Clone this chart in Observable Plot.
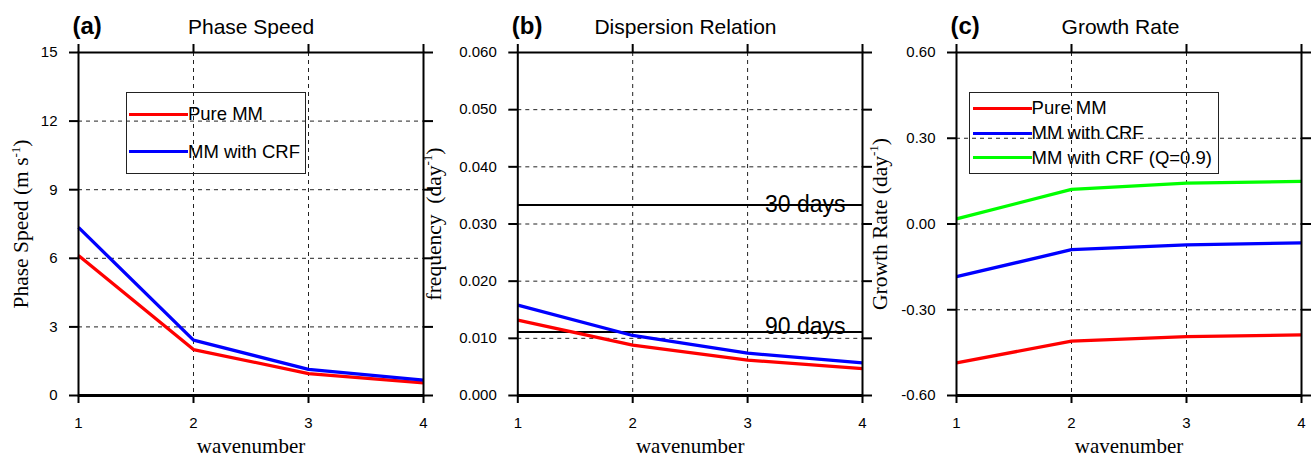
<!DOCTYPE html>
<html><head><meta charset="utf-8">
<script src="https://cdn.jsdelivr.net/npm/d3@7"></script>
<script src="https://cdn.jsdelivr.net/npm/@observablehq/plot@0.6"></script>
<style>
html,body{margin:0;padding:0;background:#fff;}
#wrap{position:relative;width:1312px;height:457px;overflow:hidden;font-family:"Liberation Sans",Arial,sans-serif;}
.panel{position:absolute;top:0;}
.legend{position:absolute;border:1px solid #222;box-sizing:border-box;font-size:18.5px;color:#000;background:transparent;}
.row{position:absolute;height:0;}
.sw{position:absolute;left:0;width:59px;height:3.5px;top:-1.75px;}
.lt{position:absolute;left:59px;top:-11px;line-height:22px;white-space:nowrap;}
</style></head><body><div id="wrap"></div>
<script>
// ---- data ----
const wavenumber = [1, 2, 3, 4];
const phaseSpeedPureMM = [6.12, 2.01, 0.96, 0.55];
const phaseSpeedMMwithCRF = [7.35, 2.42, 1.14, 0.67];
const frequencyPureMM = [0.0132, 0.0088, 0.0062, 0.0047];
const frequencyMMwithCRF = [0.0158, 0.0105, 0.0074, 0.0057];
const growthPureMM = [-0.486, -0.410, -0.394, -0.388];
const growthMMwithCRF = [-0.184, -0.090, -0.073, -0.066];
const growthMMwithCRFQ09 = [0.018, 0.121, 0.143, 0.149];
const periodDays = [30, 90];
const periodLabels = ["30 days", "90 days"];
const seriesNames = ["Pure MM", "MM with CRF", "MM with CRF (Q=0.9)"];
const seriesColors = ["#ff0000", "#0000ff", "#00ff00"];
const ticksPhase = [0, 3, 6, 9, 12, 15];
const ticksFreq = [0, 0.01, 0.02, 0.03, 0.04, 0.05, 0.06];
const ticksGrowth = [-0.6, -0.3, 0, 0.3, 0.6];

const toRows = (vals, name) => wavenumber.map((k, i) => ({k, v: vals[i], name}));
const refs = periodDays.map((d, i) => ({freq: 1 / d, label: periodLabels[i]}));

const wrap = document.getElementById("wrap");

function supify(svg) {
  d3.select(svg).selectAll("text").each(function () {
    const t = this.textContent;
    if (!t.includes("^")) return;
    const m = t.match(/^(.*)\^([^)]*)(.*)$/);
    if (!m) return;
    const el = d3.select(this);
    el.text(null).style("white-space", "pre").attr("text-anchor", "middle");
    el.append("tspan").text(m[1]);
    el.append("tspan").attr("dy", -8.5).attr("font-size", 13).text(m[2]);
    el.append("tspan").attr("dy", 8.5).text(m[3]);
  });
}

function panel(o) {
  const [y0, y1] = o.yDomain;
  const interior = o.yTicks.filter(t => t !== y0 && t !== y1);
  const marks = [
    Plot.gridY(interior, {y: d => d, stroke: "#222", strokeOpacity: 1, strokeWidth: 1, strokeDasharray: "4,4"}),
    Plot.gridX([2, 3], {x: d => d, stroke: "#222", strokeOpacity: 1, strokeWidth: 1, strokeDasharray: "4,4"}),
    ...(o.extra || []),
    ...o.series.map((s, i) => Plot.line(s, {x: "k", y: "v", stroke: o.colors[i], strokeWidth: 3.3, strokeLinecap: "butt"})),
    Plot.frame({stroke: "#000", strokeWidth: 2}),
    Plot.ruleY([y0], {stroke: "#000", strokeWidth: 3}),
    Plot.axisY({ticks: o.yTicks, tickSize: 9, tickPadding: 12, tickFormat: o.yFmt, strokeWidth: 2, fontSize: 15, label: null}),
    Plot.axisY({anchor: "right", ticks: o.yTicks, tickSize: 9, tickFormat: () => "", strokeWidth: 2, label: null}),
    Plot.axisX({ticks: wavenumber, tickSize: 8, tickPadding: 13.5, tickFormat: d => String(d), strokeWidth: 2, fontSize: 15, label: null}),
    Plot.axisX({anchor: "top", ticks: wavenumber, tickSize: 9, tickFormat: () => "", strokeWidth: 2, label: null}),
    Plot.text([o.title], {text: d => d, frameAnchor: "top", lineAnchor: "middle", textAnchor: "middle", dy: -25.4, dx: o.titleDx, fontSize: 21}),
    Plot.text([o.tag], {text: d => d, frameAnchor: "top-left", lineAnchor: "middle", textAnchor: "start", dx: -6, dy: -26, fontSize: 24, fontWeight: "bold"}),
    Plot.text([o.ylabel], {text: d => d, frameAnchor: "left", lineAnchor: "middle", textAnchor: "middle", rotate: -90, dx: o.ylabelDx, fontFamily: "Liberation Serif", fontSize: 21.5}),
    Plot.text(["wavenumber"], {text: d => d, frameAnchor: "bottom", lineAnchor: "middle", textAnchor: "middle", dy: 51, fontFamily: "Liberation Serif", fontSize: 21})
  ];
  const svg = Plot.plot({
    width: o.width, height: 457,
    marginLeft: o.mL, marginRight: o.mR, marginTop: 52, marginBottom: 62,
    x: {domain: [1, 4]},
    y: {domain: o.yDomain},
    style: {fontFamily: "Liberation Sans, Arial, sans-serif", fontSize: "15px", background: "transparent", overflow: "visible", color: "#000"},
    marks
  });
  supify(svg);
  const div = document.createElement("div");
  div.className = "panel";
  div.style.left = o.left + "px";
  div.appendChild(svg);
  wrap.appendChild(div);
}

function legend(names, colors, box, rowYs) {
  const lg = document.createElement("div");
  lg.className = "legend";
  Object.assign(lg.style, {left: box[0] + "px", top: box[1] + "px", width: box[2] + "px", height: box[3] + "px"});
  names.forEach((n, i) => {
    const r = document.createElement("div");
    r.className = "row";
    r.style.left = "2.3px";
    r.style.top = rowYs[i] + "px";
    r.innerHTML = `<div class="sw" style="background:${colors[i]}"></div><div class="lt"></div>`;
    r.querySelector(".lt").textContent = n;
    lg.appendChild(r);
  });
  wrap.appendChild(lg);
}

panel({
  left: 0, width: 440, mL: 78, mR: 17,
  yDomain: [0, 15], yTicks: ticksPhase, yFmt: d => String(d),
  series: [toRows(phaseSpeedPureMM, seriesNames[0]), toRows(phaseSpeedMMwithCRF, seriesNames[1])],
  colors: seriesColors.slice(0, 2),
  tag: "(a)", title: "Phase Speed", titleDx: 0,
  ylabel: "Phase Speed (m s^-1)", ylabelDx: -57
});

panel({
  left: 440, width: 440, mL: 77.3, mR: 18,
  yDomain: [0, 0.06], yTicks: ticksFreq, yFmt: d => d.toFixed(3),
  series: [toRows(frequencyPureMM, seriesNames[0]), toRows(frequencyMMwithCRF, seriesNames[1])],
  colors: seriesColors.slice(0, 2),
  extra: [
    Plot.ruleY(refs, {y: "freq", stroke: "#000", strokeWidth: 2}),
    Plot.text([refs[0]], {y: "freq", text: "label", frameAnchor: "right", lineAnchor: "middle", textAnchor: "end", dx: -17, fontSize: 23}),
    Plot.text([refs[1]], {y: "freq", text: "label", frameAnchor: "right", lineAnchor: "middle", textAnchor: "end", dx: -17, dy: -5, fontSize: 23})
  ],
  tag: "(b)", title: "Dispersion Relation", titleDx: -4.7,
  ylabel: "frequency  (day^-1)", ylabelDx: -83.7
});

panel({
  left: 880, width: 432, mL: 76, mR: 11,
  yDomain: [-0.6, 0.6], yTicks: ticksGrowth, yFmt: d => d.toFixed(2),
  series: [toRows(growthPureMM, seriesNames[0]), toRows(growthMMwithCRF, seriesNames[1]), toRows(growthMMwithCRFQ09, seriesNames[2])],
  colors: seriesColors,
  tag: "(c)", title: "Growth Rate", titleDx: -8.5,
  ylabel: "Growth Rate (day^-1)", ylabelDx: -76.5
});

legend(seriesNames.slice(0, 2), seriesColors.slice(0, 2), [125.7, 92, 180, 82], [21.3, 58.7]);
legend(seriesNames, seriesColors, [969.3, 92, 250, 82], [15.3, 40.3, 64.7]);
</script></body></html>
